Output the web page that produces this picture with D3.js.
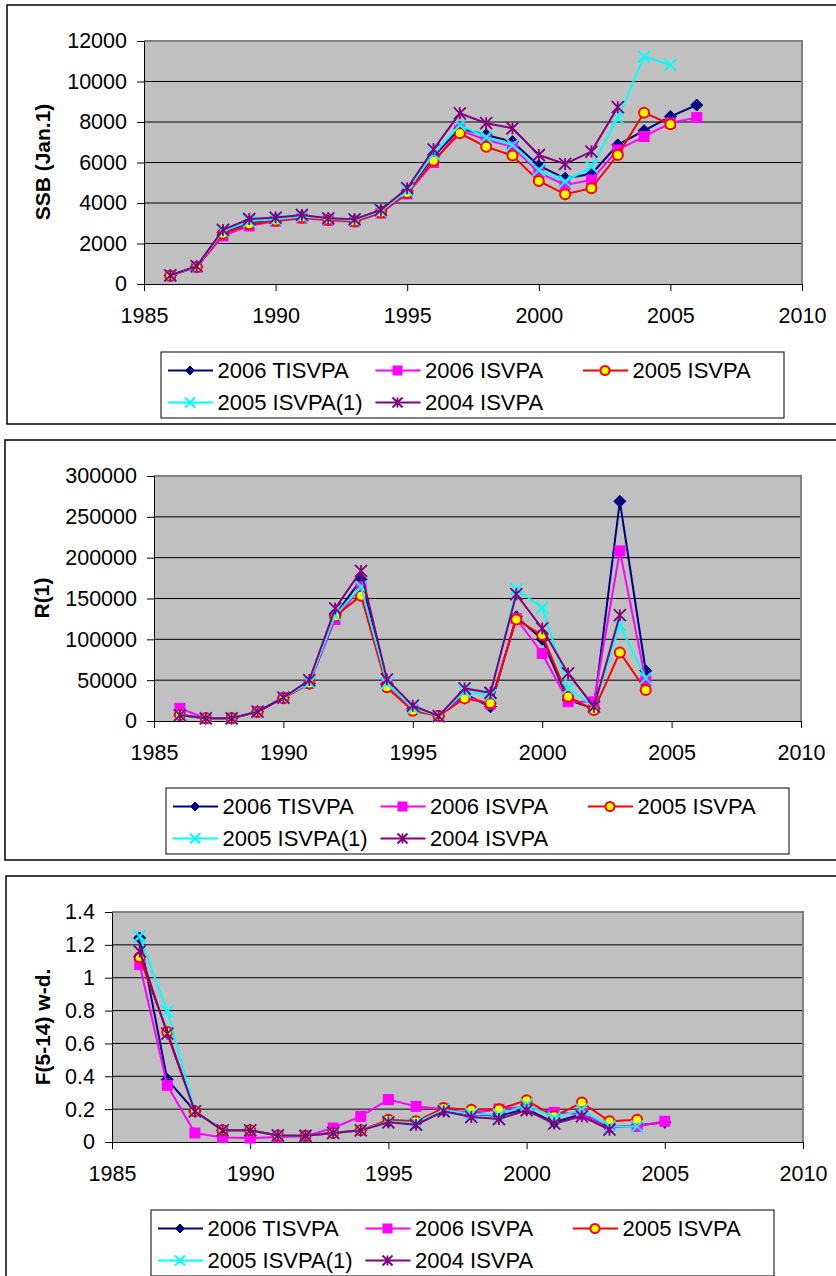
<!DOCTYPE html>
<html>
<head>
<meta charset="utf-8">
<script src="https://cdn.jsdelivr.net/npm/d3@7"></script>
<style>
  body { margin: 0; background: #fff; }
  text { font-family: "Liberation Sans", Arial, sans-serif; fill: #000; }
</style>
</head>
<body>
<div id="chart"></div>
<script>
// years on the x axis
var years = [1986, 1987, 1988, 1989, 1990, 1991, 1992, 1993, 1994, 1995, 1996,
             1997, 1998, 1999, 2000, 2001, 2002, 2003, 2004, 2005, 2006];
var xTicks = [1985, 1990, 1995, 2000, 2005, 2010];
var seriesNames = ["2006 TISVPA", "2006 ISVPA", "2005 ISVPA", "2005 ISVPA(1)", "2004 ISVPA"];

// SSB (Jan.1)
var ssbTicks = [0, 2000, 4000, 6000, 8000, 10000, 12000];
var ssbTisvpa = [420, 860, 2550, 3050, 3200, 3330, 3220, 3150, 3600, 4600, 6290, 7690, 7360, 7030, 5840, 5220, 5430, 6870, 7570, 8270, 8840];
var ssbIsvpa06 = [400, 830, 2370, 2870, 3100, 3250, 3150, 3080, 3500, 4450, 6000, 7600, 7110, 6780, 5500, 4890, 5140, 6620, 7280, 7950, 8220];
var ssbIsvpa05 = [410, 840, 2480, 2950, 3120, 3280, 3170, 3090, 3530, 4490, 6090, 7440, 6780, 6340, 5090, 4430, 4730, 6370, 8460, 7890, null];
var ssbIsvpa05b = [420, 860, 2600, 3100, 3200, 3330, 3220, 3150, 3600, 4600, 6420, 7850, 7250, 6860, 5630, 5060, 5790, 8190, 11230, 10820, null];
var ssbIsvpa04 = [430, 880, 2670, 3210, 3280, 3410, 3245, 3195, 3655, 4730, 6650, 8430, 7940, 7690, 6370, 5930, 6540, 8730, null, null, null];

// R(1)
var recTicks = [0, 50000, 100000, 150000, 200000, 250000, 300000];
var recTisvpa = [7300, 3300, 3300, 11400, 28500, 46000, 129600, 173200, 46000, 15000, 6100, 33000, 17500, 127600, 100000, 25700, 15500, 269000, 61500, null, null];
var recIsvpa06 = [15500, 3300, 3300, 11400, 28500, 46000, 124300, 164300, 46000, 15000, 6100, 29800, 20800, 125500, 82700, 23600, 23600, 208300, 49300, null, null];
var recIsvpa05 = [7300, 3300, 3300, 11000, 28000, 46000, 128400, 153300, 41200, 12600, 6100, 27700, 21600, 124300, 105200, 29800, 13400, 84000, 37900, null, null];
var recIsvpa05b = [7300, 3300, 3300, 11400, 28500, 47000, 129600, 164300, 46000, 16000, 6100, 35900, 31800, 161400, 138600, 39900, 17500, 117400, 52200, null, null];
var recIsvpa04 = [7300, 3300, 3300, 11400, 28500, 50100, 137800, 183800, 51000, 18700, 6100, 39900, 34600, 155300, 113300, 58300, 17500, 129600, null, null, null];

// F(5-14) w-d.
var fTicks = [0, 0.2, 0.4, 0.6, 0.8, 1, 1.2, 1.4];
var fTisvpa = [1.242, 0.38, 0.187, 0.071, 0.071, 0.04, 0.038, 0.055, 0.071, 0.125, 0.116, 0.19, 0.17, 0.16, 0.2, 0.12, 0.17, 0.09, 0.1, 0.12, null];
var fIsvpa06 = [1.08, 0.345, 0.055, 0.028, 0.024, 0.03, 0.035, 0.085, 0.156, 0.258, 0.217, 0.2, 0.175, 0.2, 0.215, 0.18, 0.17, 0.095, 0.095, 0.126, null];
var fIsvpa05 = [1.124, 0.67, 0.187, 0.071, 0.071, 0.04, 0.038, 0.055, 0.071, 0.135, 0.126, 0.207, 0.197, 0.2, 0.254, 0.156, 0.24, 0.126, 0.136, null, null];
var fIsvpa05b = [1.252, 0.795, 0.187, 0.071, 0.071, 0.04, 0.038, 0.055, 0.071, 0.125, 0.116, 0.195, 0.17, 0.166, 0.227, 0.146, 0.197, 0.095, 0.095, null, null];
var fIsvpa04 = [1.16, 0.66, 0.187, 0.071, 0.071, 0.04, 0.038, 0.055, 0.071, 0.12, 0.105, 0.187, 0.152, 0.14, 0.193, 0.112, 0.156, 0.075, null, null, null];

// series styles, in drawing order
var styles = [
  {color: "#000080", marker: "diamond"},
  {color: "#FF00FF", marker: "square"},
  {color: "#FF0000", marker: "circle"},
  {color: "#00FFFF", marker: "x"},
  {color: "#800080", marker: "star"}
];

var svg = d3.select("#chart").append("svg")
    .attr("width", 836)
    .attr("height", 1276);

// draw one marker centred on (cx, cy)
function marker(g, type, color, cx, cy, s) {
  if (type == "diamond") {
    g.append("path")
      .attr("d", "M" + cx + "," + (cy - s) + "L" + (cx + s) + "," + cy + "L" + cx + "," + (cy + s) + "L" + (cx - s) + "," + cy + "Z")
      .attr("fill", color).attr("stroke", color).attr("stroke-width", 1);
  } else if (type == "square") {
    g.append("rect")
      .attr("x", cx - s).attr("y", cy - s)
      .attr("width", 2 * s).attr("height", 2 * s)
      .attr("fill", color);
  } else if (type == "circle") {
    g.append("circle")
      .attr("cx", cx).attr("cy", cy).attr("r", s - 1)
      .attr("fill", "#FFFF00").attr("stroke", color).attr("stroke-width", 2);
  } else if (type == "x") {
    g.append("path")
      .attr("d", "M" + (cx - s) + "," + (cy - s) + "L" + (cx + s) + "," + (cy + s) + "M" + (cx - s) + "," + (cy + s) + "L" + (cx + s) + "," + (cy - s))
      .attr("stroke", color).attr("stroke-width", 2).attr("fill", "none");
  } else {
    g.append("path")
      .attr("d", "M" + (cx - s) + "," + (cy - s) + "L" + (cx + s) + "," + (cy + s) + "M" + (cx - s) + "," + (cy + s) + "L" + (cx + s) + "," + (cy - s) + "M" + cx + "," + (cy - s) + "L" + cx + "," + (cy + s))
      .attr("stroke", color).attr("stroke-width", 1.8).attr("fill", "none");
  }
}

function drawPanel(p) {
  // outer frame
  svg.append("rect")
    .attr("x", p.frame[0]).attr("y", p.frame[1])
    .attr("width", 900).attr("height", p.frame[2] - p.frame[1])
    .attr("fill", "none").attr("stroke", "#000").attr("stroke-width", 1.5);

  var x = d3.scaleLinear().domain([1985, 2010]).range([p.left, p.right]);
  var y = d3.scaleLinear().domain([0, p.ticks[p.ticks.length - 1]]).range([p.bottom, p.top]);

  // plot area
  svg.append("rect")
    .attr("x", p.left).attr("y", p.top)
    .attr("width", p.right - p.left).attr("height", p.bottom - p.top)
    .attr("fill", "#C0C0C0");

  // gridlines
  svg.append("g").selectAll("line")
    .data(p.ticks.slice(1, -1))
    .join("line")
      .attr("x1", p.left).attr("x2", p.right)
      .attr("y1", function(d) { return y(d); })
      .attr("y2", function(d) { return y(d); })
      .attr("stroke", "#000").attr("stroke-width", 1);

  // grey border on top and right
  svg.append("path")
    .attr("d", "M" + p.left + "," + p.top + "H" + p.right + "V" + p.bottom)
    .attr("fill", "none").attr("stroke", "#808080").attr("stroke-width", 2);

  // axes
  var yAxis = svg.append("g")
    .attr("transform", "translate(" + p.left + ",0)")
    .call(d3.axisLeft(y).tickValues(p.ticks).tickSize(7).tickSizeOuter(0).tickPadding(10)
      .tickFormat(function(d) { return String(d); }));
  var xAxis = svg.append("g")
    .attr("transform", "translate(0," + p.bottom + ")")
    .call(d3.axisBottom(x).tickValues(xTicks).tickSize(7).tickSizeOuter(0).tickPadding(17)
      .tickFormat(d3.format("d")));
  [yAxis, xAxis].forEach(function(a) {
    a.selectAll("text").style("font-size", "21.5px").attr("fill", "#000")
      .style("font-family", "'Liberation Sans', Arial, sans-serif");
    a.selectAll("line").attr("stroke", "#000");
    a.select(".domain").attr("stroke", "#000");
  });

  // y title
  svg.append("text")
    .attr("transform", "translate(" + p.title[0] + "," + p.title[1] + ") rotate(-90)")
    .attr("text-anchor", "middle")
    .attr("dy", "0.35em")
    .style("font-size", "21px")
    .style("font-weight", "bold")
    .text(p.label);

  // series
  var line = d3.line()
    .defined(function(d) { return d.v != null; })
    .x(function(d) { return x(d.year); })
    .y(function(d) { return y(d.v); });

  p.series.forEach(function(vals, i) {
    var st = styles[i];
    var pts = years.map(function(yr, k) { return {year: yr, v: vals[k]}; });
    var g = svg.append("g");
    g.append("path")
      .datum(pts)
      .attr("fill", "none")
      .attr("stroke", st.color)
      .attr("stroke-width", 2)
      .attr("d", line);
    pts.filter(function(d) { return d.v != null; }).forEach(function(d) {
      var s = st.marker == "square" ? 5.5 : 6;
      marker(g, st.marker, st.color, x(d.year), y(d.v), s);
    });
  });

  // legend
  var lg = svg.append("g");
  lg.append("rect")
    .attr("x", p.legend[0]).attr("y", p.legend[1])
    .attr("width", 623).attr("height", 66)
    .attr("fill", "#fff").attr("stroke", "#000").attr("stroke-width", 1);
  seriesNames.forEach(function(name, i) {
    var st = styles[i];
    var lx = p.legend[0] + 7 + (i % 3) * 207.5;
    var ly = p.legend[1] + 18.5 + Math.floor(i / 3) * 32;
    lg.append("line")
      .attr("x1", lx).attr("x2", lx + 45)
      .attr("y1", ly).attr("y2", ly)
      .attr("stroke", st.color).attr("stroke-width", 2);
    var s = {diamond: 4.5, square: 5, circle: 5.5, x: 5, star: 5}[st.marker];
    marker(lg, st.marker, st.color, lx + 22, ly, s);
    lg.append("text")
      .attr("x", lx + 49.5).attr("y", ly)
      .attr("dy", "0.36em")
      .style("font-size", "22px")
      .text(name);
  });
}

drawPanel({
  frame: [7, 5, 424], left: 144, right: 802, top: 41, bottom: 284,
  ticks: ssbTicks, label: "SSB (Jan.1)", title: [43, 162],
  series: [ssbTisvpa, ssbIsvpa06, ssbIsvpa05, ssbIsvpa05b, ssbIsvpa04],
  legend: [161, 352]
});

drawPanel({
  frame: [5, 440, 860], left: 154, right: 801, top: 476, bottom: 721,
  ticks: recTicks, label: "R(1)", title: [42, 598],
  series: [recTisvpa, recIsvpa06, recIsvpa05, recIsvpa05b, recIsvpa04],
  legend: [166, 788]
});

drawPanel({
  frame: [6, 876, 1300], left: 112, right: 803, top: 912, bottom: 1142,
  ticks: fTicks, label: "F(5-14) w-d.", title: [43, 1027],
  series: [fTisvpa, fIsvpa06, fIsvpa05, fIsvpa05b, fIsvpa04],
  legend: [151, 1210]
});
</script>
</body>
</html>
